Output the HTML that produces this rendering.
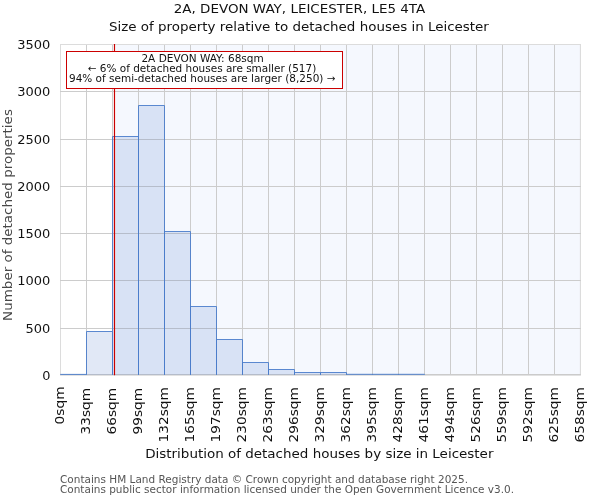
<!DOCTYPE html>
<html lang="en"><head><meta charset="utf-8"><title>2A, DEVON WAY, LEICESTER, LE5 4TA</title>
<style>html,body{margin:0;padding:0;background:#fff;}body{width:600px;height:500px;overflow:hidden;}svg{display:block;}text{font-family:"DejaVu Sans","Liberation Sans",sans-serif;fill:#111111;}</style>
</head><body>
<svg width="600" height="500" viewBox="0 0 600 500">
<rect x="0" y="0" width="600" height="500" fill="#ffffff"/>
<rect x="116" y="44.0" width="464.40" height="330.50" fill="#f5f8fe"/>
<g stroke="#cccccc" stroke-width="1" fill="none">
<line x1="60.5" y1="44.0" x2="60.5" y2="375" stroke="#dcdcdc"/>
<line x1="86.5" y1="44.0" x2="86.5" y2="375"/>
<line x1="112.5" y1="44.0" x2="112.5" y2="375"/>
<line x1="138.5" y1="44.0" x2="138.5" y2="375"/>
<line x1="164.5" y1="44.0" x2="164.5" y2="375"/>
<line x1="190.5" y1="44.0" x2="190.5" y2="375"/>
<line x1="216.5" y1="44.0" x2="216.5" y2="375"/>
<line x1="242.5" y1="44.0" x2="242.5" y2="375"/>
<line x1="268.5" y1="44.0" x2="268.5" y2="375"/>
<line x1="294.5" y1="44.0" x2="294.5" y2="375"/>
<line x1="320.5" y1="44.0" x2="320.5" y2="375"/>
<line x1="346.5" y1="44.0" x2="346.5" y2="375"/>
<line x1="372.5" y1="44.0" x2="372.5" y2="375"/>
<line x1="398.5" y1="44.0" x2="398.5" y2="375"/>
<line x1="424.5" y1="44.0" x2="424.5" y2="375"/>
<line x1="450.5" y1="44.0" x2="450.5" y2="375"/>
<line x1="476.5" y1="44.0" x2="476.5" y2="375"/>
<line x1="502.5" y1="44.0" x2="502.5" y2="375"/>
<line x1="528.5" y1="44.0" x2="528.5" y2="375"/>
<line x1="554.5" y1="44.0" x2="554.5" y2="375"/>
<line x1="580.4" y1="44.0" x2="580.4" y2="375" stroke="#d8d8d8"/>
<line x1="60.0" y1="328.5" x2="580.9" y2="328.5"/>
<line x1="60.0" y1="280.5" x2="580.9" y2="280.5"/>
<line x1="60.0" y1="233.5" x2="580.9" y2="233.5"/>
<line x1="60.0" y1="186.5" x2="580.9" y2="186.5"/>
<line x1="60.0" y1="139.5" x2="580.9" y2="139.5"/>
<line x1="60.0" y1="91.5" x2="580.9" y2="91.5"/>
<line x1="60.0" y1="44.5" x2="580.9" y2="44.5" stroke="#dcdcdc"/>
<line x1="60.0" y1="374.5" x2="580.9" y2="374.5" stroke="#cbcbcb"/>
<line x1="60.0" y1="375.5" x2="580.9" y2="375.5" stroke="#e2e2e2"/>
</g>
<g fill="#4472c4" fill-opacity="0.16" stroke="none">
<rect x="60.5" y="374.4" width="26" height="0.60"/>
<rect x="86.5" y="331.5" width="26" height="43.50"/>
<rect x="112.5" y="136.5" width="26" height="238.50"/>
<rect x="138.5" y="105.5" width="26" height="269.50"/>
<rect x="164.5" y="231.5" width="26" height="143.50"/>
<rect x="190.5" y="306.5" width="26" height="68.50"/>
<rect x="216.5" y="339.5" width="26" height="35.50"/>
<rect x="242.5" y="362.5" width="26" height="12.50"/>
<rect x="268.5" y="369.5" width="26" height="5.50"/>
<rect x="294.5" y="372.5" width="26" height="2.50"/>
<rect x="320.5" y="372.5" width="26" height="2.50"/>
<rect x="346.5" y="374.3" width="26" height="0.70"/>
<rect x="372.5" y="374.3" width="26" height="0.70"/>
<rect x="398.5" y="374.3" width="26" height="0.70"/>
</g>
<g fill="none" stroke="#4a7ccb" stroke-opacity="0.9" stroke-width="1">
<path d="M60.5 374.8V374.4H86.5V374.8"/>
<path d="M86.5 374.8V331.5H112.5V374.8"/>
<path d="M112.5 374.8V136.5H138.5V374.8"/>
<path d="M138.5 374.8V105.5H164.5V374.8"/>
<path d="M164.5 374.8V231.5H190.5V374.8"/>
<path d="M190.5 374.8V306.5H216.5V374.8"/>
<path d="M216.5 374.8V339.5H242.5V374.8"/>
<path d="M242.5 374.8V362.5H268.5V374.8"/>
<path d="M268.5 374.8V369.5H294.5V374.8"/>
<path d="M294.5 374.8V372.5H320.5V374.8"/>
<path d="M320.5 374.8V372.5H346.5V374.8"/>
<path d="M346.5 374.8V374.3H372.5V374.8"/>
<path d="M372.5 374.8V374.3H398.5V374.8"/>
<path d="M398.5 374.8V374.3H424.5V374.8"/>
</g>
<line x1="114.5" y1="44.0" x2="114.5" y2="375.2" stroke="#c80000" stroke-width="1.2"/>
<rect x="66.5" y="51.5" width="276" height="37" fill="#ffffff" stroke="#cc0000" stroke-width="1"/>
<g font-size="10.2" text-anchor="middle">
<text x="202.6" y="61.5" textLength="122.3" lengthAdjust="spacingAndGlyphs">2A DEVON WAY: 68sqm</text>
<text x="202" y="72" textLength="228.5" lengthAdjust="spacingAndGlyphs">← 6% of detached houses are smaller (517)</text>
<text x="202.25" y="82.2" textLength="266.5" lengthAdjust="spacingAndGlyphs">94% of semi-detached houses are larger (8,250) →</text>
</g>
<g font-size="12.4" text-anchor="middle">
<text x="299.5" y="13" textLength="251.5" lengthAdjust="spacingAndGlyphs">2A, DEVON WAY, LEICESTER, LE5 4TA</text>
<text x="298.9" y="30.8" textLength="380" lengthAdjust="spacingAndGlyphs">Size of property relative to detached houses in Leicester</text>
</g>
<g font-size="12.8" text-anchor="end">
<text x="50.4" y="380.10" textLength="8.2" lengthAdjust="spacingAndGlyphs">0</text>
<text x="50.4" y="333.20" textLength="24.8" lengthAdjust="spacingAndGlyphs">500</text>
<text x="50.4" y="285.20" textLength="33.1" lengthAdjust="spacingAndGlyphs">1000</text>
<text x="50.4" y="238.20" textLength="33.1" lengthAdjust="spacingAndGlyphs">1500</text>
<text x="50.4" y="191.20" textLength="33.1" lengthAdjust="spacingAndGlyphs">2000</text>
<text x="50.4" y="144.20" textLength="33.1" lengthAdjust="spacingAndGlyphs">2500</text>
<text x="50.4" y="96.20" textLength="33.1" lengthAdjust="spacingAndGlyphs">3000</text>
<text x="50.4" y="49.20" textLength="33.1" lengthAdjust="spacingAndGlyphs">3500</text>
</g>
<g font-size="13" text-anchor="end">
<text transform="translate(64.30,386.4) rotate(-90)" textLength="38" lengthAdjust="spacingAndGlyphs">0sqm</text>
<text transform="translate(90.30,388.0) rotate(-90)" textLength="46.4" lengthAdjust="spacingAndGlyphs">33sqm</text>
<text transform="translate(116.30,388.0) rotate(-90)" textLength="46.4" lengthAdjust="spacingAndGlyphs">66sqm</text>
<text transform="translate(142.30,388.0) rotate(-90)" textLength="46.4" lengthAdjust="spacingAndGlyphs">99sqm</text>
<text transform="translate(168.30,387.2) rotate(-90)" textLength="55.2" lengthAdjust="spacingAndGlyphs">132sqm</text>
<text transform="translate(194.30,387.2) rotate(-90)" textLength="55.2" lengthAdjust="spacingAndGlyphs">165sqm</text>
<text transform="translate(220.30,387.2) rotate(-90)" textLength="55.2" lengthAdjust="spacingAndGlyphs">197sqm</text>
<text transform="translate(246.30,387.2) rotate(-90)" textLength="55.2" lengthAdjust="spacingAndGlyphs">230sqm</text>
<text transform="translate(272.30,387.2) rotate(-90)" textLength="55.2" lengthAdjust="spacingAndGlyphs">263sqm</text>
<text transform="translate(298.30,387.2) rotate(-90)" textLength="55.2" lengthAdjust="spacingAndGlyphs">296sqm</text>
<text transform="translate(324.30,387.2) rotate(-90)" textLength="55.2" lengthAdjust="spacingAndGlyphs">329sqm</text>
<text transform="translate(350.30,387.2) rotate(-90)" textLength="55.2" lengthAdjust="spacingAndGlyphs">362sqm</text>
<text transform="translate(376.30,387.2) rotate(-90)" textLength="55.2" lengthAdjust="spacingAndGlyphs">395sqm</text>
<text transform="translate(402.30,387.2) rotate(-90)" textLength="55.2" lengthAdjust="spacingAndGlyphs">428sqm</text>
<text transform="translate(428.30,387.2) rotate(-90)" textLength="55.2" lengthAdjust="spacingAndGlyphs">461sqm</text>
<text transform="translate(454.30,387.2) rotate(-90)" textLength="55.2" lengthAdjust="spacingAndGlyphs">494sqm</text>
<text transform="translate(480.30,387.2) rotate(-90)" textLength="55.2" lengthAdjust="spacingAndGlyphs">526sqm</text>
<text transform="translate(506.30,387.2) rotate(-90)" textLength="55.2" lengthAdjust="spacingAndGlyphs">559sqm</text>
<text transform="translate(532.30,387.2) rotate(-90)" textLength="55.2" lengthAdjust="spacingAndGlyphs">592sqm</text>
<text transform="translate(558.30,387.2) rotate(-90)" textLength="55.2" lengthAdjust="spacingAndGlyphs">625sqm</text>
<text transform="translate(584.30,387.2) rotate(-90)" textLength="55.2" lengthAdjust="spacingAndGlyphs">658sqm</text>
</g>
<text x="319.3" y="458.0" font-size="12.4" text-anchor="middle" textLength="348.3" lengthAdjust="spacingAndGlyphs">Distribution of detached houses by size in Leicester</text>
<text transform="translate(11.6,215.0) rotate(-90)" font-size="12.4" text-anchor="middle" textLength="211.8" lengthAdjust="spacingAndGlyphs" style="fill:#484848">Number of detached properties</text>
<g font-size="10.2">
<text x="60" y="483.3" style="fill:#555555" textLength="408" lengthAdjust="spacingAndGlyphs">Contains HM Land Registry data © Crown copyright and database right 2025.</text>
<text x="60" y="492.7" style="fill:#555555" textLength="454" lengthAdjust="spacingAndGlyphs">Contains public sector information licensed under the Open Government Licence v3.0.</text>
</g>
</svg>
</body></html>
